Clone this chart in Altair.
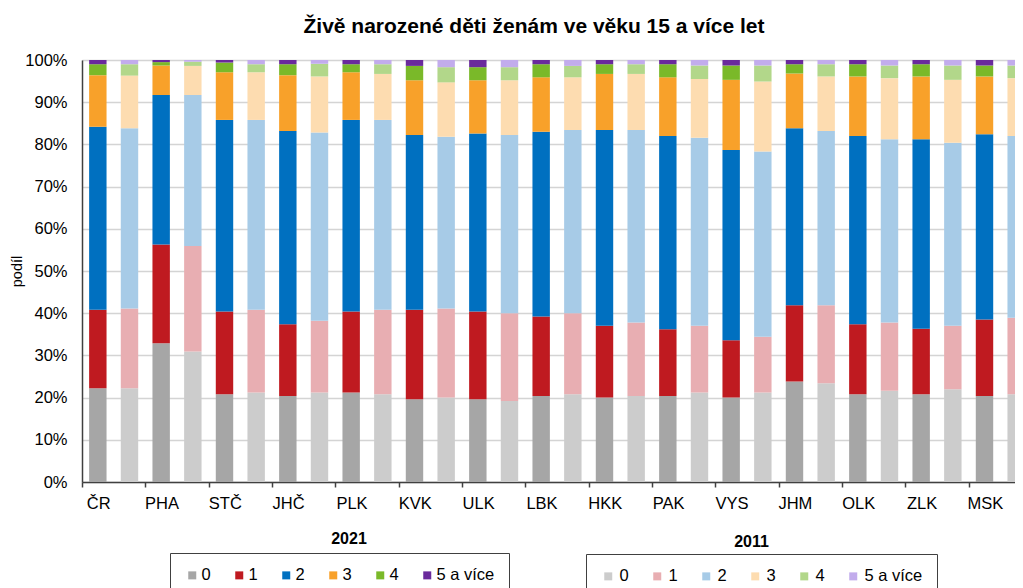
import altair as alt
import pandas as pd

regions = ["ČR", "PHA", "STČ", "JHČ", "PLK", "KVK", "ULK", "LBK",
           "HKK", "PAK", "VYS", "JHM", "OLK", "ZLK", "MSK"]
years = ["2021", "2011"]
children = ["0", "1", "2", "3", "4", "5 a více"]

# 2021 shares (%) by number of live-born children
y2021_0 = [22.2, 32.9, 20.8, 20.4, 21.2, 19.6, 19.6, 20.4, 20.0, 20.4, 20.0, 23.8, 20.8, 20.8, 20.4]
y2021_1 = [18.6, 23.4, 19.6, 17.0, 19.2, 21.2, 20.8, 18.8, 17.0, 15.8, 13.6, 18.1, 16.6, 15.5, 18.1]
y2021_2 = [43.4, 35.4, 45.4, 45.8, 45.4, 41.4, 42.2, 43.8, 46.4, 45.8, 45.1, 41.9, 44.6, 44.9, 43.9]
y2021_3 = [12.2, 7.0, 11.3, 13.2, 11.3, 13.0, 12.6, 12.9, 13.3, 13.9, 16.6, 13.0, 14.1, 14.9, 13.7]
y2021_4 = [2.6, 0.8, 2.3, 2.6, 1.9, 3.4, 3.1, 3.1, 2.3, 3.1, 3.4, 2.2, 2.9, 2.9, 2.6]
y2021_5 = [1.0, 0.5, 0.6, 1.0, 1.0, 1.4, 1.7, 1.0, 1.0, 1.0, 1.3, 1.0, 1.0, 1.0, 1.3]

# 2011 shares (%)
y2011_0 = [22.2, 30.9, 21.2, 21.2, 20.8, 20.0, 19.2, 20.8, 20.4, 21.2, 21.2, 23.4, 21.6, 22.0, 20.8]
y2011_1 = [18.9, 25.0, 19.6, 17.0, 20.0, 21.1, 20.8, 19.2, 17.4, 15.8, 13.2, 18.5, 16.2, 15.0, 18.1]
y2011_2 = [42.7, 35.8, 45.0, 44.6, 45.0, 40.7, 42.2, 43.4, 45.6, 44.6, 43.9, 41.3, 43.4, 43.4, 43.1]
y2011_3 = [12.5, 6.9, 11.3, 13.3, 10.9, 12.9, 13.0, 12.5, 13.3, 13.9, 16.6, 12.9, 14.5, 14.9, 13.7]
y2011_4 = [2.7, 1.0, 1.9, 3.0, 2.3, 3.6, 3.1, 2.7, 2.3, 3.2, 3.8, 2.9, 3.0, 3.4, 3.0]
y2011_5 = [1.0, 0.4, 1.0, 0.9, 1.0, 1.7, 1.7, 1.4, 1.0, 1.3, 1.3, 1.0, 1.3, 1.3, 1.3]

colors_2021 = ["#a6a6a6", "#bf1a20", "#0070c0", "#f8a12a", "#7ab929", "#6a2a9c"]
colors_2011 = ["#cccccc", "#e8aeb2", "#a7cbe7", "#fddcb0", "#b2d78a", "#c2acec"]

series = {
    "2021": [y2021_0, y2021_1, y2021_2, y2021_3, y2021_4, y2021_5],
    "2011": [y2011_0, y2011_1, y2011_2, y2011_3, y2011_4, y2011_5],
}
rows = []
for yr, lists in series.items():
    for ci, (cat, vals) in enumerate(zip(children, lists)):
        for reg, v in zip(regions, vals):
            rows.append({"region": reg, "year": yr, "kids": cat, "ord": ci, "value": v})
df = pd.DataFrame(rows)

FONT = "Liberation Sans, Arial, Helvetica, sans-serif"
DARK = "#404040"

x_enc = alt.X(
    "region:N", sort=regions,
    scale=alt.Scale(domain=regions, paddingInner=0, paddingOuter=0),
    axis=alt.Axis(title=None, tickBand="extent", labelAngle=0, labelOffset=-15.5,
                  labelFont=FONT, labelFontSize=16.5, labelColor="#000000",
                  labelPadding=8.5, tickSize=5, tickColor=DARK, tickWidth=1.5,
                  domainColor=DARK, domainWidth=1.5, grid=False),
)
xoff_enc = alt.XOffset(
    "year:N", sort=years,
    scale=alt.Scale(domain=years, paddingInner=0.45, paddingOuter=0.225),
)
y_enc = alt.Y(
    "value:Q", stack="normalize",
    scale=alt.Scale(domain=[0, 1]),
    axis=alt.Axis(format="%", values=[i / 10 for i in range(11)], title="podíl",
                  labelFont=FONT, labelFontSize=16.5, labelColor="#000000",
                  labelPadding=15, ticks=False, domainColor=DARK, domainWidth=1.5,
                  grid=True, gridColor="#d4d4d4", gridWidth=1.5,
                  titleFont=FONT, titleFontSize=14.5, titleFontWeight="normal",
                  titleColor="#000000", titlePadding=0),
)


def legend(lx, ly, loff):
    return alt.Legend(orient="none", legendX=lx, legendY=ly, direction="horizontal",
                      columns=6, title=None, symbolType="square", symbolSize=64,
                      symbolStrokeWidth=0, symbolOpacity=1, labelFont=FONT,
                      labelFontSize=16.5, labelColor="#000000", labelOffset=loff,
                      columnPadding=20, padding=14, strokeColor=DARK,
                      fillColor="#ffffff", cornerRadius=0)


bars21 = alt.Chart(df).transform_filter(alt.datum.year == "2021").mark_bar().encode(
    x=x_enc, xOffset=xoff_enc, y=y_enc,
    color=alt.Color("kids:N", sort=children,
                    scale=alt.Scale(domain=children, range=colors_2021),
                    legend=legend(88, 493, 1)),
    order=alt.Order("ord:Q", sort="ascending"),
)
bars11 = alt.Chart(df).transform_filter(alt.datum.year == "2011").mark_bar().encode(
    x=x_enc, xOffset=xoff_enc, y=y_enc,
    color=alt.Color("kids:N", sort=children,
                    scale=alt.Scale(domain=children, range=colors_2011),
                    legend=legend(504, 494, 3)),
    order=alt.Order("ord:Q", sort="ascending"),
)

t21 = alt.Chart(pd.DataFrame({"t": [years[0]]})).mark_text(
    font=FONT, fontSize=16, fontWeight="bold", color="#000000", baseline="middle"
).encode(text="t:N", x=alt.value(267), y=alt.value(479))
t11 = alt.Chart(pd.DataFrame({"t": [years[1]]})).mark_text(
    font=FONT, fontSize=16, fontWeight="bold", color="#000000", baseline="middle"
).encode(text="t:N", x=alt.value(669.5), y=alt.value(482))

chart = alt.layer(bars21, bars11, t21, t11).resolve_scale(
    color="independent"
).resolve_legend(color="independent").properties(
    width=950, height=422,
    title=alt.TitleParams(text="Živě narozené děti ženám ve věku 15 a více let",
                          font=FONT, fontSize=21, fontWeight="bold", color="#000000",
                          anchor="middle", frame="group", dx=-23, offset=15),
    autosize=alt.AutoSizeParams(type="none"),
    padding={"left": 74, "top": 52, "right": -17, "bottom": 106},
).configure_view(stroke=DARK, strokeWidth=1.5).configure(background="#ffffff")

chart.save("out.html", embed_options={"renderer": "svg", "actions": False})
